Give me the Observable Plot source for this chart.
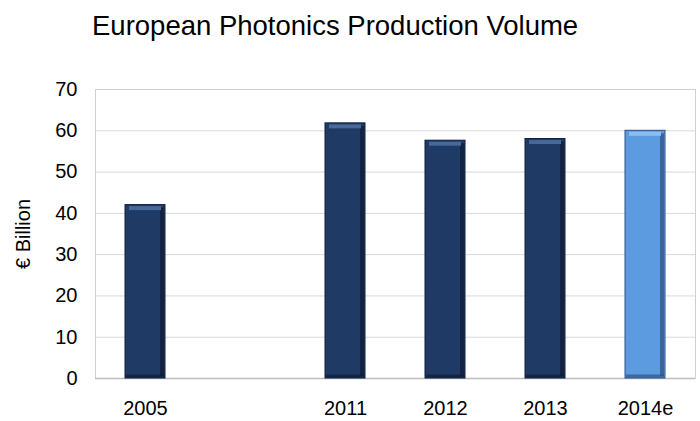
<!DOCTYPE html>
<html>
<head>
<meta charset="utf-8">
<script src="https://cdn.jsdelivr.net/npm/d3@7"></script>
<script src="https://cdn.jsdelivr.net/npm/@observablehq/plot@0.6"></script>
<style>
  body { margin: 0; background: #fff; font-family: "Liberation Sans", Arial, sans-serif; }
  #title { height: 55px; box-sizing: border-box; padding: 10px 0 0 92px; font-size: 27.5px; line-height: 32px; color: #000; white-space: nowrap; }
</style>
</head>
<body>
<div id="title">European Photonics Production Volume</div>
<div id="chart"></div>
<script>
const slots = ["2005", "gap", "2011", "2012", "2013", "2014e"];
const years = ["2005", "2011", "2012", "2013", "2014e"];
const values = [42, 61.8, 57.6, 58, 60];
const yTicks = [0, 10, 20, 30, 40, 50, 60, 70];
const estimateYear = "2014e";

const data = years.map((year, i) => ({year, value: values[i]}));
const dark = "#1f3a65", light = "#5d9be0";
const fillOf = d => d.year === estimateYear ? light : dark;
const topOf = d => d.year === estimateYear ? "#8dbcf0" : "#48689a";
const sideOf = d => d.year === estimateYear ? "#2f5283" : "#0f1e38";

const chart = Plot.plot({
  width: 700,
  height: 366,
  marginTop: 34,
  marginBottom: 43,
  marginLeft: 95,
  marginRight: 5,
  style: {fontFamily: "'Liberation Sans', Arial, sans-serif", fontSize: "20px", color: "#000", background: "#fff"},
  x: {domain: slots, paddingInner: 0.6, paddingOuter: 0.3},
  y: {domain: [0, 70]},
  marks: [
    Plot.gridY(yTicks, {stroke: "#d9d9d9", strokeOpacity: 1}),
    Plot.frame({stroke: "#d0d0d0"}),
    Plot.ruleY([0], {stroke: "#bdbdbd", strokeWidth: 1.5}),
    Plot.barY(data, {x: "year", y: "value", fill: fillOf, stroke: sideOf, strokeWidth: 1}),
    Plot.barY(data, {x: "year", y: "value", fill: sideOf, insetLeft: 35, insetRight: 1, insetTop: 3, insetBottom: 2, fillOpacity: 0.75}),
    Plot.tickY(data, {x: "year", y: 0, stroke: sideOf, strokeWidth: 3, dy: -2.5, inset: 1, strokeOpacity: 0.7}),
    Plot.tickY(data, {x: "year", y: "value", stroke: topOf, strokeWidth: 4, dy: 3, inset: 4}),
    Plot.axisX({tickSize: 0, tickPadding: 22, tickFormat: d => d === "gap" ? "" : d, label: null}),
    Plot.axisY({ticks: yTicks, tickSize: 0, tickPadding: 18, label: "€ Billion", labelAnchor: "center", labelArrow: "none", labelOffset: 80})
  ]
});
document.getElementById("chart").appendChild(chart);
</script>
</body>
</html>
